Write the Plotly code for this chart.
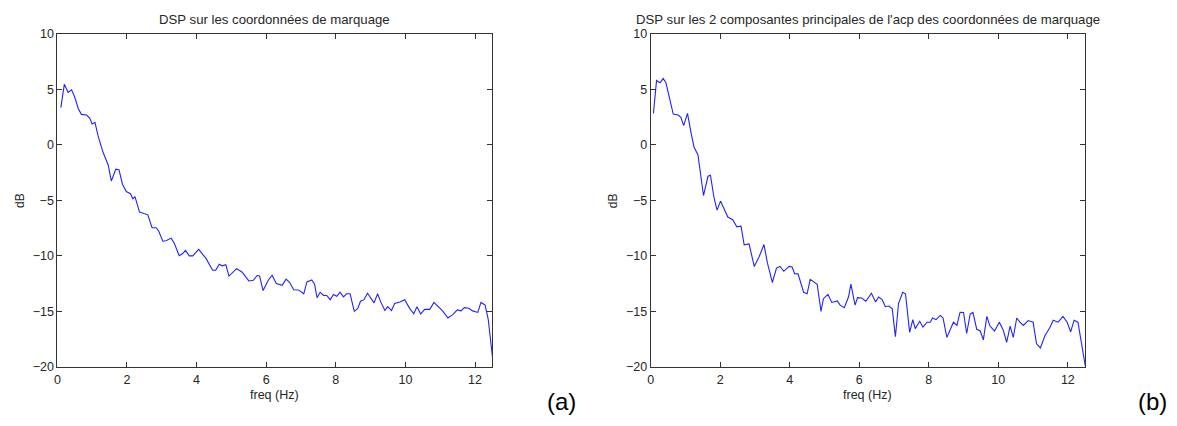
import plotly.graph_objects as go

# Power spectral density (dB) of the marker coordinates
freq_a = [0.1, 0.2, 0.31, 0.41, 0.5, 0.6, 0.69, 0.84, 0.93, 1.0, 1.08, 1.17, 1.31, 1.46, 1.55,
          1.68, 1.77, 1.87, 1.98, 2.1, 2.17, 2.23, 2.36, 2.48, 2.6, 2.72, 2.84, 2.91, 3.03, 3.12,
          3.27, 3.36, 3.5, 3.6, 3.68, 3.79, 3.89, 4.06, 4.15, 4.27, 4.46, 4.55, 4.65, 4.74, 4.84,
          4.93, 5.15, 5.31, 5.5, 5.63, 5.74, 5.81, 5.91, 6.06, 6.17, 6.29, 6.46, 6.57, 6.67, 6.79,
          6.93, 7.08, 7.17, 7.31, 7.39, 7.46, 7.55, 7.65, 7.74, 7.84, 7.93, 8.03, 8.12, 8.22, 8.31,
          8.41, 8.53, 8.63, 8.71, 8.81, 8.91, 9.01, 9.1, 9.2, 9.29, 9.41, 9.49, 9.6, 9.69, 9.84,
          9.98, 10.12, 10.24, 10.33, 10.44, 10.55, 10.7, 10.82, 10.93, 11.08, 11.22, 11.36, 11.49,
          11.6, 11.69, 11.82, 11.93, 12.08, 12.17, 12.29, 12.38, 12.5]
db_a = [3.37, 5.47, 4.74, 4.97, 4.3, 3.29, 2.76, 2.7, 2.42, 1.9, 2.04, 0.82, -0.64, -1.8, -3.25,
        -2.18, -2.23, -3.54, -4.2, -4.4, -4.85, -4.65, -6.05, -6.2, -6.3, -7.46, -7.46, -7.76, -8.68, -8.63,
        -8.4, -8.86, -9.99, -9.79, -9.5, -10.0, -10.0, -9.42, -9.79, -10.23, -11.3, -11.3, -10.75, -10.9, -10.8,
        -11.82, -11.15, -11.47, -12.26, -12.2, -11.77, -11.82, -13.13, -12.2, -11.74, -12.5, -12.65, -12.1, -12.38, -13.05,
        -13.07, -13.42, -12.35, -12.17, -12.55, -13.77, -13.28, -13.57, -13.57, -13.95, -13.48, -13.65, -13.28, -13.7, -13.42,
        -13.42, -15.0, -14.73, -14.09, -13.95, -13.37, -13.8, -14.24, -13.42, -14.15, -14.93, -14.58, -14.93, -14.3, -14.15,
        -13.95, -14.73, -15.22, -14.58, -15.25, -14.82, -14.82, -14.2, -14.58, -15.0, -15.6, -15.3, -14.87,
        -14.96, -14.67, -14.73, -14.96, -15.1, -14.2, -14.44, -15.75, -19.1]

# Power spectral density (dB) of the first 2 principal components
freq_b = [0.08, 0.17, 0.27, 0.36, 0.44, 0.52, 0.65, 0.79, 0.87, 0.95, 1.06, 1.17, 1.25, 1.36, 1.44,
          1.52, 1.65, 1.72, 1.82, 1.91, 2.01, 2.22, 2.36, 2.48, 2.6, 2.69, 2.83, 2.98, 3.12, 3.26,
          3.36, 3.5, 3.62, 3.72, 3.83, 3.98, 4.07, 4.14, 4.24, 4.4, 4.5, 4.59, 4.79, 4.9, 4.97,
          5.1, 5.21, 5.37, 5.45, 5.57, 5.69, 5.76, 5.88, 5.95, 6.07, 6.19, 6.35, 6.47, 6.56, 6.66,
          6.75, 6.85, 6.95, 7.04, 7.13, 7.25, 7.33, 7.45, 7.54, 7.61, 7.74, 7.83, 7.95, 8.04, 8.11,
          8.21, 8.33, 8.41, 8.52, 8.62, 8.71, 8.81, 8.9, 9.0, 9.09, 9.19, 9.27, 9.38, 9.48, 9.57,
          9.67, 9.76, 9.89, 10.03, 10.14, 10.24, 10.34, 10.43, 10.53, 10.62, 10.72, 10.86, 11.0,
          11.1, 11.21, 11.34, 11.48, 11.58, 11.72, 11.86, 11.98, 12.08, 12.18, 12.29, 12.36, 12.5]
db_b = [2.85, 5.82, 5.61, 5.99, 5.61, 4.59, 2.79, 2.7, 2.5, 1.74, 2.85, 0.96, -0.2, -0.87, -2.53,
        -4.56, -2.82, -2.73, -4.71, -5.87, -5.06, -6.5, -6.74, -7.38, -7.32, -9.0, -8.92, -10.95, -10.08, -8.98,
        -10.66, -12.4, -11.1, -10.95, -11.39, -10.95, -11.0, -11.6, -11.62, -13.28, -13.42, -12.12, -12.56, -15.0, -13.86,
        -13.48, -14.2, -14.06, -14.44, -14.67, -13.71, -12.55, -14.44, -13.77, -13.8, -14.09, -13.37, -14.15, -13.71, -13.95,
        -14.58, -14.52, -14.78, -17.29, -14.3, -13.28, -13.42, -16.9, -15.75, -16.56, -15.9, -16.42, -15.98, -15.98, -15.6,
        -15.75, -15.37, -15.6, -17.35, -16.62, -15.98, -16.27, -15.08, -15.1, -17.0, -15.25, -15.1, -16.62, -16.77, -17.58,
        -15.46, -16.33, -16.77, -15.98, -16.68, -17.79, -16.33, -17.35, -15.6, -15.98, -16.27, -15.83, -15.98,
        -17.93, -18.3, -17.2, -16.48, -15.8, -15.98, -15.46, -15.98, -16.85, -15.8, -15.98, -17.2, -19.9]

x_ticks = [0, 2, 4, 6, 8, 10, 12]
y_ticks = [-20, -15, -10, -5, 0, 5, 10]

title_a = "DSP sur les coordonnées de marquage"
title_b = "DSP sur les 2 composantes principales de l'acp des coordonnées de marquage"

W, H = 1177, 426
FONT = "Liberation Sans, Arial, sans-serif"
TICK_FONT = "Liberation Sans Narrow, Arial Narrow, Liberation Sans, sans-serif"
TEXT = "#262626"
LINE = "#2222ff"

fig = go.Figure()
fig.add_trace(go.Scatter(x=freq_a, y=db_a, mode="lines", line=dict(color=LINE, width=1.1),
                         xaxis="x", yaxis="y", showlegend=False))
fig.add_trace(go.Scatter(x=freq_b, y=db_b, mode="lines", line=dict(color=LINE, width=1.1),
                         xaxis="x2", yaxis="y2", showlegend=False))

dom_a = [54.5 / W, 490.7 / W]
dom_b = [649.3 / W, 1085.0 / W]
dom_y = [1 - 372 / H, 1 - 28 / H]

ax_common = dict(showline=True, linecolor="#333333", linewidth=1, mirror="ticks",
                 ticks="inside", ticklen=5, tickcolor="#333333", showgrid=False,
                 zeroline=False, tickfont=dict(family=TICK_FONT, size=12.5, color=TEXT))

fig.update_layout(
    width=W, height=H,
    margin=dict(l=0, r=0, t=0, b=0),
    paper_bgcolor="white", plot_bgcolor="white",
    xaxis=dict(domain=dom_a, range=[0, 12.5], tickvals=x_ticks, anchor="y", ticklabelstandoff=1, **ax_common),
    yaxis=dict(domain=dom_y, range=[-20, 10], tickvals=y_ticks, anchor="x", **ax_common),
    xaxis2=dict(domain=dom_b, range=[0, 12.5], tickvals=x_ticks, anchor="y2", ticklabelstandoff=1, **ax_common),
    yaxis2=dict(domain=dom_y, range=[-20, 10], tickvals=y_ticks, anchor="x2", **ax_common),
)

ann = []
for dom, title, tag, tag_x in ((dom_a, title_a, "(a)", 560 / W), (dom_b, title_b, "(b)", 1152 / W)):
    cx = (dom[0] + dom[1]) / 2
    ann.append(dict(text=title, x=cx, y=1 - 13 / H, xref="paper", yref="paper", showarrow=False,
                    xanchor="center", yanchor="middle", font=dict(family=FONT, size=13.2, color=TEXT)))
    ann.append(dict(text="freq (Hz)", x=cx, y=1 - 401 / H, xref="paper", yref="paper", showarrow=False,
                    xanchor="center", yanchor="middle", font=dict(family=FONT, size=12.5, color=TEXT)))
    ann.append(dict(text="dB", x=dom[0] - 37 / W, y=1 - 200 / H, xref="paper", yref="paper",
                    showarrow=False, textangle=-90, xanchor="center", yanchor="middle",
                    font=dict(family=FONT, size=12, color=TEXT)))
    ann.append(dict(text=tag, x=tag_x, y=1 - 408 / H, xref="paper", yref="paper", showarrow=False,
                    xanchor="center", yanchor="middle", font=dict(family=FONT, size=24, color="#000000")))
fig.update_layout(annotations=ann)

fig.write_html("out.html")
